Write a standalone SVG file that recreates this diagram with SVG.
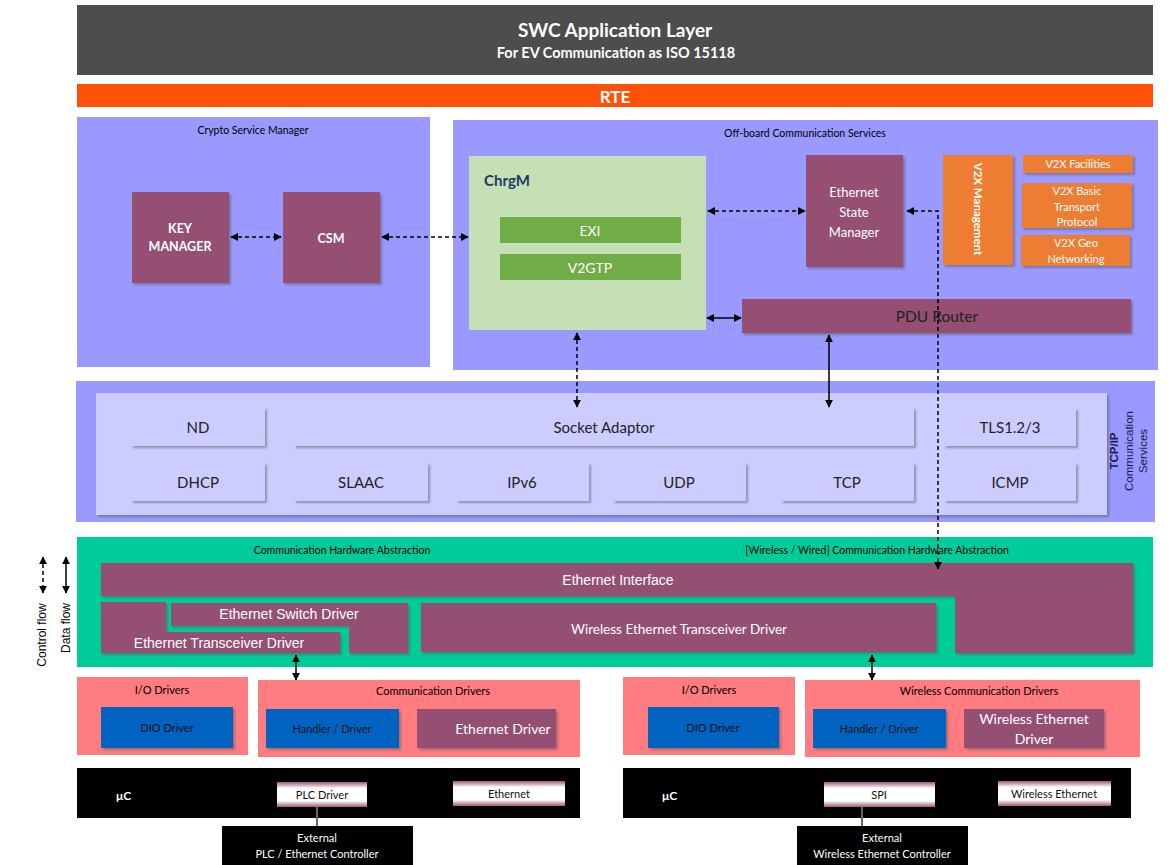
<svg xmlns="http://www.w3.org/2000/svg" width="1173" height="865" viewBox="0 0 1173 865">
<defs>
<style>
.cal{font-family:Lato,"Open Sans","Liberation Sans",sans-serif}
.ari{font-family:"Liberation Sans",Arial,sans-serif}
.w{fill:#fff}
.k{fill:#000}
.mar{fill:#954f72}
.panel{fill:#9999ff}
.lt{fill:#ccccff}
.blue{fill:#0563c1}
.pink{fill:#ff7c80}
.or{fill:#ed7d31}
.conn{stroke:#000;stroke-width:1.5;fill:none}
.dash{stroke-dasharray:4 3}
</style>
<filter id="sh" x="-10%" y="-10%" width="130%" height="140%">
<feDropShadow dx="2" dy="2" stdDeviation="1" flood-color="#555" flood-opacity="0.5"/>
</filter>
<marker id="ah" viewBox="0 0 10 10" refX="9" refY="5" markerWidth="8" markerHeight="8" markerUnits="userSpaceOnUse" orient="auto-start-reverse">
<path d="M0,0 L10,5 L0,10 z" fill="#000"/>
</marker>
<linearGradient id="chip" x1="0" y1="0" x2="0" y2="1">
<stop offset="0" stop-color="#9c5a7c"/>
<stop offset="0.25" stop-color="#fff"/>
<stop offset="0.75" stop-color="#fff"/>
<stop offset="1" stop-color="#9c5a7c"/>
</linearGradient>
</defs>
<rect width="1173" height="865" fill="#fff"/>

<g id="swc">
<rect x="77" y="5" width="1076" height="70" fill="#4d4d4d"/>
<text x="615" y="37" text-anchor="middle" class="cal w" font-size="19" font-weight="bold">SWC Application Layer</text>
<text x="616" y="58" text-anchor="middle" class="cal w" font-size="14.5" font-weight="bold">For EV Communication as ISO 15118</text>
</g>
<g id="rte">
<rect x="77" y="84" width="1076" height="23" fill="#ff5208"/>
<text x="615" y="103" text-anchor="middle" class="cal w" font-size="17" font-weight="bold">RTE</text>
</g>

<g id="crypto">
<rect x="77" y="117" width="353" height="250" class="panel"/>
<text x="253" y="134" text-anchor="middle" class="cal k" font-size="10.5">Crypto Service Manager</text>
</g>
<g id="keymgr">
<rect x="132" y="192" width="97" height="91" class="mar" filter="url(#sh)"/>
<text x="180" y="233" text-anchor="middle" class="cal w" font-size="12.5" font-weight="bold">KEY</text>
<text x="180" y="251" text-anchor="middle" class="cal w" font-size="12.5" font-weight="bold">MANAGER</text>
</g>
<g id="csm">
<rect x="283" y="192" width="97" height="91" class="mar" filter="url(#sh)"/>
<text x="331" y="243" text-anchor="middle" class="cal w" font-size="12.5" font-weight="bold">CSM</text>
</g>

<g id="offboard">
<rect x="453" y="120" width="705" height="250" class="panel"/>
<text x="805" y="137" text-anchor="middle" class="cal k" font-size="10.5">Off-board Communication Services</text>
</g>
<g id="chrgm">
<rect x="469" y="156" width="237" height="174" fill="#c5e0b4"/>
<text x="484" y="186" class="cal" font-size="15" font-weight="bold" fill="#1f3864">ChrgM</text>
<rect x="500" y="217" width="181" height="26" fill="#70ad47"/>
<text x="590" y="236" text-anchor="middle" class="cal w" font-size="14">EXI</text>
<rect x="500" y="254" width="181" height="26" fill="#70ad47"/>
<text x="590" y="273" text-anchor="middle" class="cal w" font-size="14">V2GTP</text>
</g>
<g id="ethsm">
<rect x="806" y="155" width="97" height="112" class="mar" filter="url(#sh)"/>
<text x="854" y="197" text-anchor="middle" class="cal w" font-size="13">Ethernet</text>
<text x="854" y="217" text-anchor="middle" class="cal w" font-size="13">State</text>
<text x="854" y="237" text-anchor="middle" class="cal w" font-size="13">Manager</text>
</g>
<g id="v2xmgmt">
<rect x="943" y="155" width="70" height="110" class="or" filter="url(#sh)"/>
<text transform="translate(974,209) rotate(90)" text-anchor="middle" class="cal w" font-size="11.5" font-weight="bold">V2X Management</text>
</g>
<g id="v2xfac">
<rect x="1023" y="155" width="110" height="18" class="or" filter="url(#sh)"/>
<text x="1078" y="168" text-anchor="middle" class="cal w" font-size="11">V2X Facilities</text>
</g>
<g id="v2xbtp">
<rect x="1022" y="183" width="110" height="45" class="or" filter="url(#sh)"/>
<text x="1077" y="195" text-anchor="middle" class="cal w" font-size="11">V2X Basic</text>
<text x="1077" y="211" text-anchor="middle" class="cal w" font-size="11">Transport</text>
<text x="1077" y="226" text-anchor="middle" class="cal w" font-size="11">Protocol</text>
</g>
<g id="v2xgeo">
<rect x="1021" y="235" width="109" height="31" class="or" filter="url(#sh)"/>
<text x="1076" y="247" text-anchor="middle" class="cal w" font-size="11">V2X Geo</text>
<text x="1076" y="263" text-anchor="middle" class="cal w" font-size="11">Networking</text>
</g>
<g id="pdur">
<rect x="742" y="299" width="389" height="34" class="mar" filter="url(#sh)"/>
<text x="937" y="322" text-anchor="middle" class="cal" font-size="15.5" fill="#222">PDU Router</text>
</g>

<g id="tcpip">
<rect x="76" y="381" width="1079" height="141" class="panel"/>
<rect x="96" y="393" width="1011" height="122" class="lt" filter="url(#sh)"/>
<text transform="translate(1118,451) rotate(-90)" text-anchor="middle" class="ari" font-size="11.5" font-weight="bold" fill="#1a1a4d">TCP/IP</text>
<text transform="translate(1133,451) rotate(-90)" text-anchor="middle" class="ari" font-size="11.5" fill="#1a1a4d">Communication</text>
<text transform="translate(1147,451) rotate(-90)" text-anchor="middle" class="ari" font-size="11.5" fill="#1a1a4d">Services</text>
</g>
<g id="nd"><rect x="131" y="408" width="134" height="38" class="lt" filter="url(#sh)"/><text x="198" y="433" text-anchor="middle" class="cal" font-size="15" fill="#222">ND</text></g>
<g id="sockad"><rect x="294" y="408" width="620" height="38" class="lt" filter="url(#sh)"/><text x="604" y="433" text-anchor="middle" class="cal" font-size="15" fill="#222">Socket Adaptor</text></g>
<g id="tls"><rect x="944" y="408" width="132" height="38" class="lt" filter="url(#sh)"/><text x="1010" y="433" text-anchor="middle" class="cal" font-size="15" fill="#222">TLS1.2/3</text></g>
<g id="dhcp"><rect x="131" y="463" width="134" height="38" class="lt" filter="url(#sh)"/><text x="198" y="488" text-anchor="middle" class="cal" font-size="15" fill="#222">DHCP</text></g>
<g id="slaac"><rect x="294" y="463" width="134" height="38" class="lt" filter="url(#sh)"/><text x="361" y="488" text-anchor="middle" class="cal" font-size="15" fill="#222">SLAAC</text></g>
<g id="ipv6"><rect x="456" y="463" width="133" height="38" class="lt" filter="url(#sh)"/><text x="522" y="488" text-anchor="middle" class="cal" font-size="15" fill="#222">IPv6</text></g>
<g id="udp"><rect x="613" y="463" width="133" height="38" class="lt" filter="url(#sh)"/><text x="679" y="488" text-anchor="middle" class="cal" font-size="15" fill="#222">UDP</text></g>
<g id="tcp"><rect x="781" y="463" width="133" height="38" class="lt" filter="url(#sh)"/><text x="847" y="488" text-anchor="middle" class="cal" font-size="15" fill="#222">TCP</text></g>
<g id="icmp"><rect x="944" y="463" width="132" height="38" class="lt" filter="url(#sh)"/><text x="1010" y="488" text-anchor="middle" class="cal" font-size="15" fill="#222">ICMP</text></g>

<g id="hwabs">
<rect x="77" y="537" width="1076" height="130" fill="#00cc99"/>
<text x="342" y="554" text-anchor="middle" class="cal k" font-size="10.5">Communication Hardware Abstraction</text>
<text x="877" y="554" text-anchor="middle" class="cal k" font-size="10.5">[Wireless / Wired] Communication Hardware Abstraction</text>
</g>
<g id="ethif">
<path d="M101,563 H1133 V653 H955 V596 H101 Z" class="mar" filter="url(#sh)"/>
<text x="618" y="585" text-anchor="middle" class="ari w" font-size="14">Ethernet Interface</text>
</g>
<g id="ethtrx">
<path d="M101,602 H166 V632 H340 V653 H101 Z" class="mar" filter="url(#sh)"/>
<text x="219" y="648" text-anchor="middle" class="ari w" font-size="14">Ethernet Transceiver Driver</text>
</g>
<g id="ethsw">
<path d="M171,603 H408 V653 H349 V626 H171 Z" class="mar" filter="url(#sh)"/>
<text x="289" y="619" text-anchor="middle" class="ari w" font-size="14">Ethernet Switch Driver</text>
</g>
<g id="wethtrx">
<rect x="421" y="603" width="515" height="49" class="mar" filter="url(#sh)"/>
<text x="679" y="634" text-anchor="middle" class="cal w" font-size="13.5">Wireless Ethernet Transceiver Driver</text>
</g>

<g id="legend">
<text transform="translate(46,635) rotate(-90)" text-anchor="middle" class="ari k" font-size="12">Control flow</text>
<text transform="translate(70,628) rotate(-90)" text-anchor="middle" class="ari k" font-size="12">Data flow</text>
</g>

<g id="iodrv1">
<rect x="77" y="677" width="171" height="78" class="pink"/>
<text x="162" y="694" text-anchor="middle" class="cal k" font-size="11">I/O Drivers</text>
</g>
<g id="dio1"><rect x="101" y="707" width="132" height="41" class="blue" filter="url(#sh)"/><text x="167" y="732" text-anchor="middle" class="cal" font-size="11" fill="#111">DIO Driver</text></g>
<g id="commdrv">
<rect x="258" y="680" width="322" height="77" class="pink"/>
<text x="433" y="695" text-anchor="middle" class="cal k" font-size="11">Communication Drivers</text>
</g>
<g id="hdl1"><rect x="266" y="709" width="133" height="39" class="blue" filter="url(#sh)"/><text x="332" y="733" text-anchor="middle" class="cal" font-size="11" fill="#111">Handler / Driver</text></g>
<g id="ethdrv"><rect x="417" y="709" width="139" height="39" class="mar" filter="url(#sh)"/><text x="503" y="734" text-anchor="middle" class="cal w" font-size="14">Ethernet Driver</text></g>

<g id="iodrv2">
<rect x="623" y="677" width="172" height="78" class="pink"/>
<text x="709" y="694" text-anchor="middle" class="cal k" font-size="11">I/O Drivers</text>
</g>
<g id="dio2"><rect x="648" y="707" width="131" height="41" class="blue" filter="url(#sh)"/><text x="713" y="732" text-anchor="middle" class="cal" font-size="11" fill="#111">DIO Driver</text></g>
<g id="wcommdrv">
<rect x="805" y="680" width="335" height="77" class="pink"/>
<text x="979" y="695" text-anchor="middle" class="cal k" font-size="11">Wireless Communication Drivers</text>
</g>
<g id="hdl2"><rect x="813" y="709" width="133" height="39" class="blue" filter="url(#sh)"/><text x="879" y="733" text-anchor="middle" class="cal" font-size="11" fill="#111">Handler / Driver</text></g>
<g id="wethdrv"><rect x="964" y="709" width="140" height="39" class="mar" filter="url(#sh)"/><text x="1034" y="724" text-anchor="middle" class="cal w" font-size="14">Wireless Ethernet</text><text x="1034" y="744" text-anchor="middle" class="cal w" font-size="14">Driver</text></g>

<g id="uc1">
<rect x="77" y="768" width="503" height="50" fill="#000"/>
<text x="116" y="800" class="cal w" font-size="12" font-weight="bold">μC</text>
</g>
<g id="plc"><rect x="277" y="782" width="90" height="25" fill="url(#chip)"/><text x="322" y="799" text-anchor="middle" class="cal" font-size="11" fill="#111">PLC Driver</text></g>
<g id="eth"><rect x="453" y="781" width="112" height="25" fill="url(#chip)"/><text x="509" y="798" text-anchor="middle" class="cal" font-size="11" fill="#111">Ethernet</text></g>
<g id="ext1">
<rect x="222" y="826" width="191" height="39" fill="#000"/>
<text x="317" y="842" text-anchor="middle" class="cal w" font-size="11">External</text>
<text x="317" y="858" text-anchor="middle" class="cal w" font-size="11">PLC / Ethernet Controller</text>
</g>

<g id="uc2">
<rect x="623" y="768" width="508" height="50" fill="#000"/>
<text x="662" y="800" class="cal w" font-size="12" font-weight="bold">μC</text>
</g>
<g id="spi"><rect x="824" y="782" width="111" height="25" fill="url(#chip)"/><text x="879" y="799" text-anchor="middle" class="cal" font-size="11" fill="#111">SPI</text></g>
<g id="weth"><rect x="998" y="781" width="113" height="25" fill="url(#chip)"/><text x="1054" y="798" text-anchor="middle" class="cal" font-size="11" fill="#111">Wireless Ethernet</text></g>
<g id="ext2">
<rect x="797" y="826" width="171" height="39" fill="#000"/>
<text x="882" y="842" text-anchor="middle" class="cal w" font-size="11">External</text>
<text x="882" y="858" text-anchor="middle" class="cal w" font-size="11">Wireless Ethernet Controller</text>
</g>

<g id="connectors">
<path d="M231,237 H281" class="conn dash" marker-start="url(#ah)" marker-end="url(#ah)"/>
<path d="M382,237 H468" class="conn dash" marker-start="url(#ah)" marker-end="url(#ah)"/>
<path d="M708,211 H805" class="conn dash" marker-start="url(#ah)" marker-end="url(#ah)"/>
<path d="M707,318 H741" class="conn" marker-start="url(#ah)" marker-end="url(#ah)"/>
<path d="M907,211 H938 V569" class="conn dash" marker-start="url(#ah)" marker-end="url(#ah)"/>
<path d="M577,333 V407" class="conn dash" marker-start="url(#ah)" marker-end="url(#ah)"/>
<path d="M829,335 V407" class="conn" marker-start="url(#ah)" marker-end="url(#ah)"/>
<path d="M296,655 V680" class="conn" marker-start="url(#ah)" marker-end="url(#ah)"/>
<path d="M872,655 V680" class="conn" marker-start="url(#ah)" marker-end="url(#ah)"/>
<path d="M43,557 V593" class="conn dash" marker-start="url(#ah)" marker-end="url(#ah)"/>
<path d="M66,557 V593" class="conn" marker-start="url(#ah)" marker-end="url(#ah)"/>
<path d="M317,807 V826" stroke="#666" stroke-width="2" fill="none"/>
<path d="M862,807 V826" stroke="#666" stroke-width="2" fill="none"/>
</g>
</svg>
